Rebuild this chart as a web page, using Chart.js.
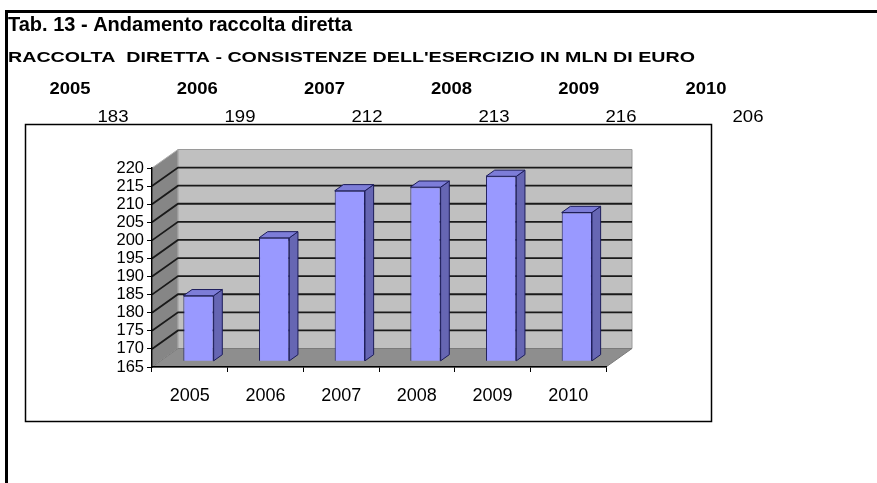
<!DOCTYPE html>
<html lang="it">
<head>
<meta charset="UTF-8">
<title>Tab. 13 - Andamento raccolta diretta</title>
<script src="https://cdn.jsdelivr.net/npm/chart.js"></script>
<style>
  body { margin: 0; background: #fff; }
  canvas { display: block; }
</style>
</head>
<body>
<canvas id="myChart" width="877" height="483"></canvas>
<script>
// dati
const anni = ['2005', '2006', '2007', '2008', '2009', '2010'];
const raccolta = [183, 199, 212, 213, 216, 206];
const yMin = 165, yMax = 220, yStep = 5;

const titolo = 'Tab. 13 - Andamento raccolta diretta';
const sottotitolo = "RACCOLTA  DIRETTA - CONSISTENZE DELL'ESERCIZIO IN MLN DI EURO";

// profondita' della scena 3d (pixel)
const DX = 26, DY = -18.5;
const FONT = "Arial, 'Liberation Sans', sans-serif";

// testo allargato in orizzontale fino alla larghezza w
function drawText(ctx, txt, x, y, font, w, align) {
  ctx.save();
  ctx.font = font;
  const m = ctx.measureText(txt).width;
  let x0 = 0;
  if (align === 'center') x0 = -m / 2;
  if (align === 'right') x0 = -m;
  ctx.translate(x, y);
  ctx.scale(w / m, 1);
  ctx.textAlign = 'left';
  ctx.textBaseline = 'alphabetic';
  ctx.fillText(txt, x0, 0);
  ctx.restore();
}

function poly(ctx, pts, fill, stroke) {
  ctx.beginPath();
  ctx.moveTo(pts[0][0], pts[0][1]);
  for (let i = 1; i < pts.length; i++) ctx.lineTo(pts[i][0], pts[i][1]);
  ctx.closePath();
  ctx.fillStyle = fill;
  ctx.fill();
  if (stroke) { ctx.strokeStyle = stroke; ctx.stroke(); }
}

const scena3d = {
  id: 'scena3d',
  beforeDraw(chart) {
    const ctx = chart.ctx;
    const ys = chart.scales.y;
    const {left: L, right: R, top: T, bottom: B} = chart.chartArea;
    ctx.save();

    // cornice della pagina
    ctx.fillStyle = '#000';
    ctx.fillRect(5, 10, 872, 3);
    ctx.fillRect(5, 10, 3, 473);

    // intestazioni
    drawText(ctx, titolo, 8, 31, 'bold 20px ' + FONT, 344);
    drawText(ctx, sottotitolo, 8, 62, 'bold 15px ' + FONT, 687);
    anni.forEach((a, i) => drawText(ctx, a, 70 + i * 127.2, 94, 'bold 16px ' + FONT, 41, 'center'));
    raccolta.forEach((v, i) => drawText(ctx, String(v), 113 + i * 127, 121.5, '16.5px ' + FONT, 31, 'center'));

    // riquadro del grafico
    ctx.strokeStyle = '#000';
    ctx.lineWidth = 1.5;
    ctx.strokeRect(25.5, 124.5, 686, 297);

    // pareti e pavimento
    ctx.lineWidth = 1;
    poly(ctx, [[L + DX, T + DY], [R + DX, T + DY], [R + DX, B + DY], [L + DX, B + DY]], '#c0c0c0', '#9a9a9a');
    poly(ctx, [[L, B], [L, T], [L + DX, T + DY], [L + DX, B + DY]], '#868686', '#b0b0b0');
    poly(ctx, [[L, B], [R, B], [R + DX, B + DY], [L + DX, B + DY]], '#8e8e8e', '#7a7a7a');

    // griglia su parete laterale e di fondo
    ctx.strokeStyle = '#1a1a1a';
    ctx.lineWidth = 1.8;
    ys.ticks.forEach(t => {
      if (t.value <= yMin || t.value >= yMax) return;
      const py = ys.getPixelForValue(t.value);
      ctx.beginPath();
      ctx.moveTo(L, py);
      ctx.lineTo(L + DX, py + DY);
      ctx.lineTo(R + DX, py + DY);
      ctx.stroke();
    });
    ctx.restore();
  },
  beforeDatasetsDraw(chart) {
    // le colonne stanno a un terzo della profondita'
    chart.ctx.save();
    chart.ctx.translate(DX / 3, DY / 3);
  },
  afterDatasetsDraw(chart) {
    const ctx = chart.ctx;
    const bdx = DX / 3, bdy = DY / 3;
    const base = chart.scales.y.getPixelForValue(yMin);
    ctx.lineWidth = 1;
    chart.getDatasetMeta(0).data.forEach(bar => {
      const p = bar.getProps(['x', 'y', 'width'], true);
      const l = p.x - p.width / 2, r = p.x + p.width / 2;
      poly(ctx, [[r, p.y], [r + bdx, p.y + bdy], [r + bdx, base + bdy], [r, base]], '#6666b3', '#1c1c5a');
      poly(ctx, [[l, p.y], [l + bdx, p.y + bdy], [r + bdx, p.y + bdy], [r, p.y]], '#7d7dd8', '#1c1c5a');
    });
    ctx.restore();
  }
};

const config = {
  type: 'bar',
  data: {
    labels: anni,
    datasets: [{
      data: raccolta,
      backgroundColor: '#9999ff',
      borderColor: '#1c1c5a',
      borderWidth: 1,
      barPercentage: 0.4,
      categoryPercentage: 1
    }]
  },
  options: {
    responsive: false,
    animation: false,
    layout: { padding: { top: 168, right: 271, left: 0, bottom: 0 } },
    plugins: { legend: { display: false }, tooltip: { enabled: false } },
    scales: {
      x: {
        grid: { drawOnChartArea: false, tickLength: 5, color: '#000' },
        border: { color: '#000', width: 1.5 },
        ticks: { color: '#000', font: { family: FONT, size: 18 }, padding: 13 },
        afterFit(s) { s.height = 116; }
      },
      y: {
        min: yMin,
        max: yMax,
        ticks: { stepSize: yStep, autoSkip: false, color: '#000', font: { family: FONT, size: 16.5 }, padding: 3 },
        grid: { drawOnChartArea: false, tickLength: 5, color: '#000' },
        border: { color: '#000', width: 1.5 },
        afterFit(s) { s.width = 152; }
      }
    }
  },
  plugins: [scena3d]
};

const myChart = new Chart(document.getElementById('myChart'), config);
</script>
</body>
</html>
